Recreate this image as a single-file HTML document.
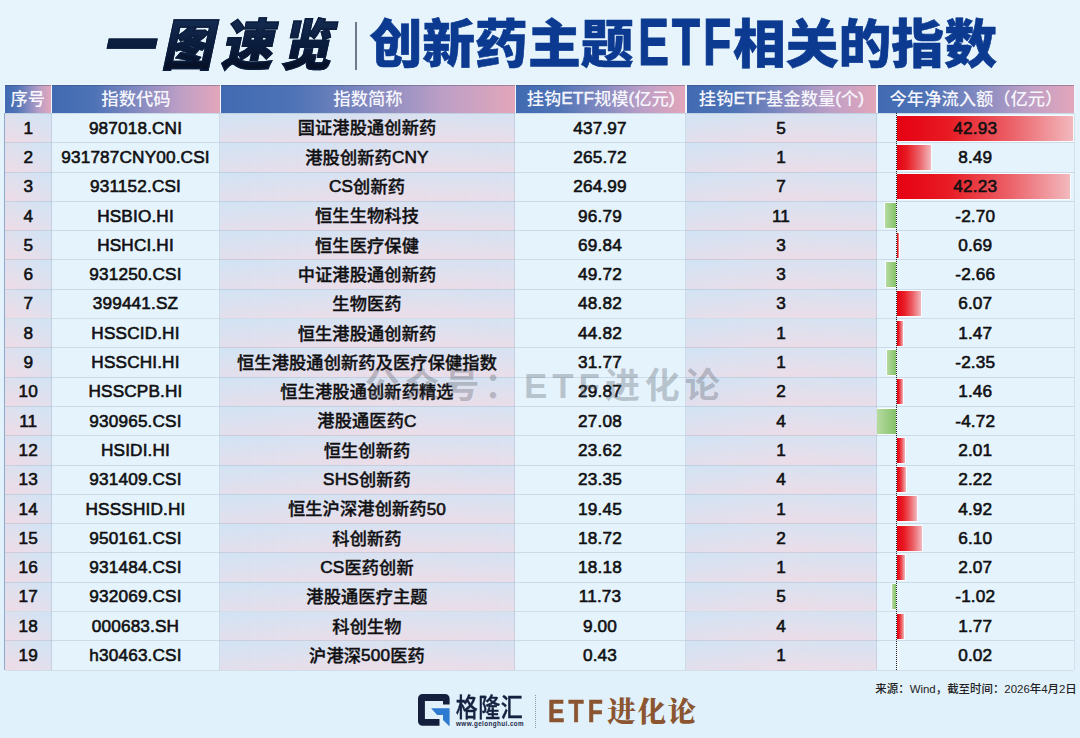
<!DOCTYPE html><html lang="zh-CN"><head><meta charset="utf-8"><title>创新药主题ETF相关的指数</title><style>
*{margin:0;padding:0;box-sizing:border-box}
html,body{width:1080px;height:738px;overflow:hidden}
body{position:relative;background:linear-gradient(180deg,#e7f4fc 0%,#e3f2fb 45%,#e1f1fb 100%);font-family:"Liberation Sans","Noto Sans CJK SC",sans-serif;color:#111}
b{font-weight:400;-webkit-text-stroke:.6px #111;position:relative;top:-.8px}
.hd b{-webkit-text-stroke:.45px #f6f6fc}
.abs{position:absolute}



.t1{position:absolute;left:98px;top:8px;height:76px;line-height:76px;font-size:55px;font-weight:900;letter-spacing:8.8px;color:#0b1a38;background:linear-gradient(180deg,#152b52 12%,#0b1c3c 50%,#040b1c 92%);-webkit-background-clip:text;background-clip:text;-webkit-text-fill-color:transparent;paint-order:stroke fill;transform:skewX(-12deg) scale(.93,1);transform-origin:left bottom;white-space:nowrap;-webkit-text-stroke:1.4px #0b1d3d}
.tsep{position:absolute;left:355px;top:22px;width:1.6px;height:48px;background:#6f7b8c}
.t2{position:absolute;left:369.5px;top:2.2px;height:76px;line-height:76px;font-size:52.8px;font-weight:900;letter-spacing:0;color:#0b3a90;white-space:nowrap;-webkit-text-stroke:0.6px #0b3a90}
.t2 .en{display:inline-block;width:95px;font-size:66.4px;line-height:76px;transform:scaleX(.70);transform-origin:left bottom;vertical-align:baseline;letter-spacing:4px;margin-left:4.5px;position:relative;top:2px;-webkit-text-stroke:1px #0b3a90}
.hd{position:absolute;top:84.6px;height:28.3px;line-height:28.6px;text-align:center;color:#f6f6fc;font-size:17.3px;font-weight:500;white-space:nowrap;
 background:linear-gradient(90deg,#406ab2 0%,#4e73b6 25%,#8189c0 50%,#bd9fc6 76%,#e3a6ba 100%);box-shadow:inset 0 1px 0 rgba(50,60,100,.35)}
.c{position:absolute;height:29.3px;line-height:28.6px;padding-top:1.0px;text-align:center;font-size:17.2px;letter-spacing:.15px;font-weight:500;-webkit-text-stroke:0.35px #111;color:#101014;white-space:nowrap;overflow:hidden}
.odd{background:linear-gradient(90deg,rgba(208,228,246,.3) 0%,rgba(236,222,232,.25) 55%,rgba(226,224,238,.2) 100%),linear-gradient(180deg,#d1e3f4 0%,#dfe0ee 50%,#ecdce7 100%)}
.odd1{background:linear-gradient(270deg,rgba(208,228,246,.4) 0%,rgba(225,225,238,.25) 50%,rgba(240,218,228,.4) 100%),linear-gradient(180deg,#d1e3f4 0%,#dfe0ee 50%,#ecdce7 100%)}
.even{background:#e5f3fc}
.hl{position:absolute;left:5px;width:1069px;height:1px;background:rgba(150,170,190,.32)}
.vl{position:absolute;top:113px;width:1px;height:557px;background:rgba(150,170,190,.30)}
.bar{position:absolute;height:25px;box-shadow:0 0 0 1px rgba(255,255,255,.75)}
.pos{background:linear-gradient(90deg,#e50012 0%,#e81c25 30%,#ec636a 66%,#f2b9be 100%)}
.neg{background:linear-gradient(90deg,#b5dba0 0%,#86c26a 100%)}
.axis{position:absolute;left:896px;top:113px;width:0;height:557px;border-left:1.3px dotted #222}
.glogo{position:absolute;left:418px;top:693.7px;width:31.6px;height:32.6px}
.gname{position:absolute;left:455.8px;top:692.8px;font-size:22px;line-height:32px;font-weight:500;-webkit-text-stroke:.3px #15213f;color:#15213f;letter-spacing:0.5px;white-space:nowrap;transform:scaleY(1.17);transform-origin:left center}
.gurl{position:absolute;left:456px;top:718.6px;font-family:"Liberation Sans","Noto Sans CJK SC",sans-serif;font-size:6.3px;line-height:10px;font-weight:700;color:#1b2747;letter-spacing:.42px;white-space:nowrap}
.fsep{position:absolute;left:535px;top:695px;width:0;height:33px;border-left:1.6px dotted #8e97aa}
.etf{position:absolute;left:547.5px;top:693.6px;font-family:"Liberation Sans","Noto Sans CJK SC",sans-serif;font-size:31px;line-height:36px;font-weight:700;color:#8a5530;letter-spacing:5px;white-space:nowrap;-webkit-text-stroke:0.6px #8a5530;transform:scaleX(.8);transform-origin:left center}
.jhl{position:absolute;left:607.3px;top:692.5px;font-family:"Liberation Serif","Noto Serif CJK SC",serif;font-size:28.5px;line-height:40px;font-weight:900;color:#8a5530;letter-spacing:1.6px;white-space:nowrap}
.wm{position:absolute;left:364.5px;top:362px;font-size:35px;line-height:48px;font-weight:700;color:rgba(70,76,88,.29);letter-spacing:4.9px;white-space:nowrap}
.src{position:absolute;right:3.2px;top:681px;font-size:11.45px;line-height:16px;color:#222;font-weight:500;white-space:nowrap}
</style></head><body>
<div class="t1">一图速览</div><div class="tsep"></div><div class="t2">创新药主题<span class="en">ETF</span>相关的指数</div>
<div class="abs" style="left:4px;top:84px;width:1071px;height:587px;background:#eef7fd"></div>
<div class="hd" style="left:5px;width:45.7px">序号</div>
<div class="hd" style="left:52.2px;width:167.5px">指数代码</div>
<div class="hd" style="left:221.2px;width:293.5px">指数简称</div>
<div class="hd" style="left:516.2px;width:169.0px">挂钩<b>ETF</b>规模<b>(</b>亿元<b>)</b></div>
<div class="hd" style="left:686.7px;width:189.5px">挂钩<b>ETF</b>基金数量<b>(</b>个<b>)</b></div>
<div class="hd" style="left:877.7px;width:196.6px">今年净流入额（亿元）</div>
<div class="c odd1" style="left:5px;top:113.4px;width:46.5px"><b>1</b></div>
<div class="c even" style="left:51.5px;top:113.4px;width:168.0px"><b>987018.CNI</b></div>
<div class="c odd" style="left:219.5px;top:113.4px;width:295.0px">国证港股通创新药</div>
<div class="c even" style="left:514.5px;top:113.4px;width:171.0px"><b>437.97</b></div>
<div class="c odd" style="left:685.5px;top:113.4px;width:191.0px"><b>5</b></div>
<div class="c even" style="left:876.5px;top:113.4px;width:197.5px"></div>
<div class="bar pos" style="left:896.5px;top:115.5px;width:176.0px"></div>
<div class="c" style="left:876.5px;top:113.4px;width:197.5px"><b>42.93</b></div>
<div class="c odd1" style="left:5px;top:142.7px;width:46.5px"><b>2</b></div>
<div class="c even" style="left:51.5px;top:142.7px;width:168.0px"><b>931787CNY00.CSI</b></div>
<div class="c odd" style="left:219.5px;top:142.7px;width:295.0px">港股创新药<b>CNY</b></div>
<div class="c even" style="left:514.5px;top:142.7px;width:171.0px"><b>265.72</b></div>
<div class="c odd" style="left:685.5px;top:142.7px;width:191.0px"><b>1</b></div>
<div class="c even" style="left:876.5px;top:142.7px;width:197.5px"></div>
<div class="bar pos" style="left:896.5px;top:144.8px;width:34.8px"></div>
<div class="c" style="left:876.5px;top:142.7px;width:197.5px"><b>8.49</b></div>
<div class="c odd1" style="left:5px;top:172.0px;width:46.5px"><b>3</b></div>
<div class="c even" style="left:51.5px;top:172.0px;width:168.0px"><b>931152.CSI</b></div>
<div class="c odd" style="left:219.5px;top:172.0px;width:295.0px"><b>CS</b>创新药</div>
<div class="c even" style="left:514.5px;top:172.0px;width:171.0px"><b>264.99</b></div>
<div class="c odd" style="left:685.5px;top:172.0px;width:191.0px"><b>7</b></div>
<div class="c even" style="left:876.5px;top:172.0px;width:197.5px"></div>
<div class="bar pos" style="left:896.5px;top:174.1px;width:173.1px"></div>
<div class="c" style="left:876.5px;top:172.0px;width:197.5px"><b>42.23</b></div>
<div class="c odd1" style="left:5px;top:201.3px;width:46.5px"><b>4</b></div>
<div class="c even" style="left:51.5px;top:201.3px;width:168.0px"><b>HSBIO.HI</b></div>
<div class="c odd" style="left:219.5px;top:201.3px;width:295.0px">恒生生物科技</div>
<div class="c even" style="left:514.5px;top:201.3px;width:171.0px"><b>96.79</b></div>
<div class="c odd" style="left:685.5px;top:201.3px;width:191.0px"><b>11</b></div>
<div class="c even" style="left:876.5px;top:201.3px;width:197.5px"></div>
<div class="bar neg" style="left:885.4px;top:203.4px;width:11.1px"></div>
<div class="c" style="left:876.5px;top:201.3px;width:197.5px"><b>-2.70</b></div>
<div class="c odd1" style="left:5px;top:230.6px;width:46.5px"><b>5</b></div>
<div class="c even" style="left:51.5px;top:230.6px;width:168.0px"><b>HSHCI.HI</b></div>
<div class="c odd" style="left:219.5px;top:230.6px;width:295.0px">恒生医疗保健</div>
<div class="c even" style="left:514.5px;top:230.6px;width:171.0px"><b>69.84</b></div>
<div class="c odd" style="left:685.5px;top:230.6px;width:191.0px"><b>3</b></div>
<div class="c even" style="left:876.5px;top:230.6px;width:197.5px"></div>
<div class="bar pos" style="left:896.5px;top:232.7px;width:2.8px"></div>
<div class="c" style="left:876.5px;top:230.6px;width:197.5px"><b>0.69</b></div>
<div class="c odd1" style="left:5px;top:259.9px;width:46.5px"><b>6</b></div>
<div class="c even" style="left:51.5px;top:259.9px;width:168.0px"><b>931250.CSI</b></div>
<div class="c odd" style="left:219.5px;top:259.9px;width:295.0px">中证港股通创新药</div>
<div class="c even" style="left:514.5px;top:259.9px;width:171.0px"><b>49.72</b></div>
<div class="c odd" style="left:685.5px;top:259.9px;width:191.0px"><b>3</b></div>
<div class="c even" style="left:876.5px;top:259.9px;width:197.5px"></div>
<div class="bar neg" style="left:885.6px;top:262.0px;width:10.9px"></div>
<div class="c" style="left:876.5px;top:259.9px;width:197.5px"><b>-2.66</b></div>
<div class="c odd1" style="left:5px;top:289.2px;width:46.5px"><b>7</b></div>
<div class="c even" style="left:51.5px;top:289.2px;width:168.0px"><b>399441.SZ</b></div>
<div class="c odd" style="left:219.5px;top:289.2px;width:295.0px">生物医药</div>
<div class="c even" style="left:514.5px;top:289.2px;width:171.0px"><b>48.82</b></div>
<div class="c odd" style="left:685.5px;top:289.2px;width:191.0px"><b>3</b></div>
<div class="c even" style="left:876.5px;top:289.2px;width:197.5px"></div>
<div class="bar pos" style="left:896.5px;top:291.3px;width:24.9px"></div>
<div class="c" style="left:876.5px;top:289.2px;width:197.5px"><b>6.07</b></div>
<div class="c odd1" style="left:5px;top:318.5px;width:46.5px"><b>8</b></div>
<div class="c even" style="left:51.5px;top:318.5px;width:168.0px"><b>HSSCID.HI</b></div>
<div class="c odd" style="left:219.5px;top:318.5px;width:295.0px">恒生港股通创新药</div>
<div class="c even" style="left:514.5px;top:318.5px;width:171.0px"><b>44.82</b></div>
<div class="c odd" style="left:685.5px;top:318.5px;width:191.0px"><b>1</b></div>
<div class="c even" style="left:876.5px;top:318.5px;width:197.5px"></div>
<div class="bar pos" style="left:896.5px;top:320.6px;width:6.0px"></div>
<div class="c" style="left:876.5px;top:318.5px;width:197.5px"><b>1.47</b></div>
<div class="c odd1" style="left:5px;top:347.8px;width:46.5px"><b>9</b></div>
<div class="c even" style="left:51.5px;top:347.8px;width:168.0px"><b>HSSCHI.HI</b></div>
<div class="c odd" style="left:219.5px;top:347.8px;width:295.0px">恒生港股通创新药及医疗保健指数</div>
<div class="c even" style="left:514.5px;top:347.8px;width:171.0px"><b>31.77</b></div>
<div class="c odd" style="left:685.5px;top:347.8px;width:191.0px"><b>1</b></div>
<div class="c even" style="left:876.5px;top:347.8px;width:197.5px"></div>
<div class="bar neg" style="left:886.9px;top:349.9px;width:9.6px"></div>
<div class="c" style="left:876.5px;top:347.8px;width:197.5px"><b>-2.35</b></div>
<div class="c odd1" style="left:5px;top:377.1px;width:46.5px"><b>10</b></div>
<div class="c even" style="left:51.5px;top:377.1px;width:168.0px"><b>HSSCPB.HI</b></div>
<div class="c odd" style="left:219.5px;top:377.1px;width:295.0px">恒生港股通创新药精选</div>
<div class="c even" style="left:514.5px;top:377.1px;width:171.0px"><b>29.87</b></div>
<div class="c odd" style="left:685.5px;top:377.1px;width:191.0px"><b>2</b></div>
<div class="c even" style="left:876.5px;top:377.1px;width:197.5px"></div>
<div class="bar pos" style="left:896.5px;top:379.2px;width:6.0px"></div>
<div class="c" style="left:876.5px;top:377.1px;width:197.5px"><b>1.46</b></div>
<div class="c odd1" style="left:5px;top:406.4px;width:46.5px"><b>11</b></div>
<div class="c even" style="left:51.5px;top:406.4px;width:168.0px"><b>930965.CSI</b></div>
<div class="c odd" style="left:219.5px;top:406.4px;width:295.0px">港股通医药<b>C</b></div>
<div class="c even" style="left:514.5px;top:406.4px;width:171.0px"><b>27.08</b></div>
<div class="c odd" style="left:685.5px;top:406.4px;width:191.0px"><b>4</b></div>
<div class="c even" style="left:876.5px;top:406.4px;width:197.5px"></div>
<div class="bar neg" style="left:877.1px;top:408.5px;width:19.4px"></div>
<div class="c" style="left:876.5px;top:406.4px;width:197.5px"><b>-4.72</b></div>
<div class="c odd1" style="left:5px;top:435.7px;width:46.5px"><b>12</b></div>
<div class="c even" style="left:51.5px;top:435.7px;width:168.0px"><b>HSIDI.HI</b></div>
<div class="c odd" style="left:219.5px;top:435.7px;width:295.0px">恒生创新药</div>
<div class="c even" style="left:514.5px;top:435.7px;width:171.0px"><b>23.62</b></div>
<div class="c odd" style="left:685.5px;top:435.7px;width:191.0px"><b>1</b></div>
<div class="c even" style="left:876.5px;top:435.7px;width:197.5px"></div>
<div class="bar pos" style="left:896.5px;top:437.8px;width:8.2px"></div>
<div class="c" style="left:876.5px;top:435.7px;width:197.5px"><b>2.01</b></div>
<div class="c odd1" style="left:5px;top:465.0px;width:46.5px"><b>13</b></div>
<div class="c even" style="left:51.5px;top:465.0px;width:168.0px"><b>931409.CSI</b></div>
<div class="c odd" style="left:219.5px;top:465.0px;width:295.0px"><b>SHS</b>创新药</div>
<div class="c even" style="left:514.5px;top:465.0px;width:171.0px"><b>23.35</b></div>
<div class="c odd" style="left:685.5px;top:465.0px;width:191.0px"><b>4</b></div>
<div class="c even" style="left:876.5px;top:465.0px;width:197.5px"></div>
<div class="bar pos" style="left:896.5px;top:467.1px;width:9.1px"></div>
<div class="c" style="left:876.5px;top:465.0px;width:197.5px"><b>2.22</b></div>
<div class="c odd1" style="left:5px;top:494.3px;width:46.5px"><b>14</b></div>
<div class="c even" style="left:51.5px;top:494.3px;width:168.0px"><b>HSSSHID.HI</b></div>
<div class="c odd" style="left:219.5px;top:494.3px;width:295.0px">恒生沪深港创新药<b>50</b></div>
<div class="c even" style="left:514.5px;top:494.3px;width:171.0px"><b>19.45</b></div>
<div class="c odd" style="left:685.5px;top:494.3px;width:191.0px"><b>1</b></div>
<div class="c even" style="left:876.5px;top:494.3px;width:197.5px"></div>
<div class="bar pos" style="left:896.5px;top:496.4px;width:20.2px"></div>
<div class="c" style="left:876.5px;top:494.3px;width:197.5px"><b>4.92</b></div>
<div class="c odd1" style="left:5px;top:523.6px;width:46.5px"><b>15</b></div>
<div class="c even" style="left:51.5px;top:523.6px;width:168.0px"><b>950161.CSI</b></div>
<div class="c odd" style="left:219.5px;top:523.6px;width:295.0px">科创新药</div>
<div class="c even" style="left:514.5px;top:523.6px;width:171.0px"><b>18.72</b></div>
<div class="c odd" style="left:685.5px;top:523.6px;width:191.0px"><b>2</b></div>
<div class="c even" style="left:876.5px;top:523.6px;width:197.5px"></div>
<div class="bar pos" style="left:896.5px;top:525.7px;width:25.0px"></div>
<div class="c" style="left:876.5px;top:523.6px;width:197.5px"><b>6.10</b></div>
<div class="c odd1" style="left:5px;top:552.9px;width:46.5px"><b>16</b></div>
<div class="c even" style="left:51.5px;top:552.9px;width:168.0px"><b>931484.CSI</b></div>
<div class="c odd" style="left:219.5px;top:552.9px;width:295.0px"><b>CS</b>医药创新</div>
<div class="c even" style="left:514.5px;top:552.9px;width:171.0px"><b>18.18</b></div>
<div class="c odd" style="left:685.5px;top:552.9px;width:191.0px"><b>1</b></div>
<div class="c even" style="left:876.5px;top:552.9px;width:197.5px"></div>
<div class="bar pos" style="left:896.5px;top:555.0px;width:8.5px"></div>
<div class="c" style="left:876.5px;top:552.9px;width:197.5px"><b>2.07</b></div>
<div class="c odd1" style="left:5px;top:582.2px;width:46.5px"><b>17</b></div>
<div class="c even" style="left:51.5px;top:582.2px;width:168.0px"><b>932069.CSI</b></div>
<div class="c odd" style="left:219.5px;top:582.2px;width:295.0px">港股通医疗主题</div>
<div class="c even" style="left:514.5px;top:582.2px;width:171.0px"><b>11.73</b></div>
<div class="c odd" style="left:685.5px;top:582.2px;width:191.0px"><b>5</b></div>
<div class="c even" style="left:876.5px;top:582.2px;width:197.5px"></div>
<div class="bar neg" style="left:892.3px;top:584.3px;width:4.2px"></div>
<div class="c" style="left:876.5px;top:582.2px;width:197.5px"><b>-1.02</b></div>
<div class="c odd1" style="left:5px;top:611.5px;width:46.5px"><b>18</b></div>
<div class="c even" style="left:51.5px;top:611.5px;width:168.0px"><b>000683.SH</b></div>
<div class="c odd" style="left:219.5px;top:611.5px;width:295.0px">科创生物</div>
<div class="c even" style="left:514.5px;top:611.5px;width:171.0px"><b>9.00</b></div>
<div class="c odd" style="left:685.5px;top:611.5px;width:191.0px"><b>4</b></div>
<div class="c even" style="left:876.5px;top:611.5px;width:197.5px"></div>
<div class="bar pos" style="left:896.5px;top:613.6px;width:7.3px"></div>
<div class="c" style="left:876.5px;top:611.5px;width:197.5px"><b>1.77</b></div>
<div class="c odd1" style="left:5px;top:640.8px;width:46.5px"><b>19</b></div>
<div class="c even" style="left:51.5px;top:640.8px;width:168.0px"><b>h30463.CSI</b></div>
<div class="c odd" style="left:219.5px;top:640.8px;width:295.0px">沪港深<b>500</b>医药</div>
<div class="c even" style="left:514.5px;top:640.8px;width:171.0px"><b>0.43</b></div>
<div class="c odd" style="left:685.5px;top:640.8px;width:191.0px"><b>1</b></div>
<div class="c even" style="left:876.5px;top:640.8px;width:197.5px"></div>
<div class="bar pos" style="left:896.5px;top:642.9px;width:0.1px"></div>
<div class="c" style="left:876.5px;top:640.8px;width:197.5px"><b>0.02</b></div>
<div class="hl" style="top:112.9px"></div>
<div class="hl" style="top:142.2px"></div>
<div class="hl" style="top:171.5px"></div>
<div class="hl" style="top:200.8px"></div>
<div class="hl" style="top:230.1px"></div>
<div class="hl" style="top:259.4px"></div>
<div class="hl" style="top:288.7px"></div>
<div class="hl" style="top:318.0px"></div>
<div class="hl" style="top:347.3px"></div>
<div class="hl" style="top:376.6px"></div>
<div class="hl" style="top:405.9px"></div>
<div class="hl" style="top:435.2px"></div>
<div class="hl" style="top:464.5px"></div>
<div class="hl" style="top:493.8px"></div>
<div class="hl" style="top:523.1px"></div>
<div class="hl" style="top:552.4px"></div>
<div class="hl" style="top:581.7px"></div>
<div class="hl" style="top:611.0px"></div>
<div class="hl" style="top:640.3px"></div>
<div class="hl" style="top:669.6px"></div>
<div class="vl" style="left:4.0px"></div>
<div class="vl" style="left:51.0px"></div>
<div class="vl" style="left:219.0px"></div>
<div class="vl" style="left:514.0px"></div>
<div class="vl" style="left:685.0px"></div>
<div class="vl" style="left:876.0px"></div>
<div class="vl" style="left:1073.5px"></div>
<div class="abs" style="left:4px;top:113px;width:1px;height:557px;background:rgba(95,135,185,.6)"></div>
<div class="axis"></div>
<div class="wm">公众号：ETF进化论</div>
<div class="src">来源：Wind，截至时间：2026年4月2日</div>
<svg class="glogo" viewBox="0 0 31.6 32.6"><path d="M4.5 0H27.1A4.5 4.5 0 0 1 31.6 4.5V10.4H25V7.1H6.9V24.9H21.5V31.8H4.5A4.5 4.5 0 0 1 0 27.3V4.5A4.5 4.5 0 0 1 4.5 0Z" fill="#141f3d"/><path d="M13.1 14.3H31.6V32.5L25 25.9V20.9H19.1Z" fill="#2d7bd0"/></svg>
<div class="gname">格隆汇</div><div class="gurl">www.gelonghui.com</div><div class="fsep"></div><div class="etf">ETF</div><div class="jhl">进化论</div>
</body></html>
